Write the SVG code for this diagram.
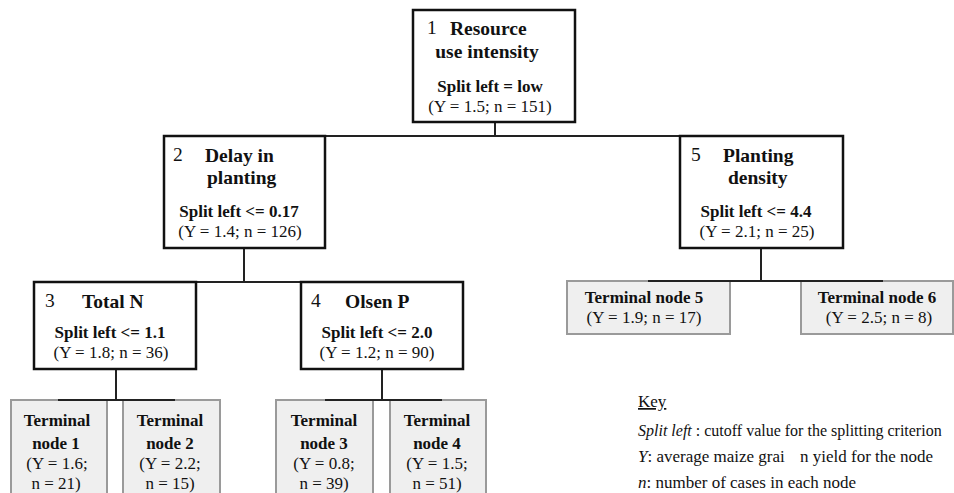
<svg xmlns="http://www.w3.org/2000/svg" width="954" height="493" viewBox="0 0 954 493">
<style>
text{font-family:"Liberation Serif","Times New Roman",serif;fill:#111;}
.t{font-size:19.5px;font-weight:bold;}
.num{font-size:19.5px;font-weight:normal;}
.s{font-size:17px;font-weight:bold;text-anchor:middle;}
.v{font-size:17px;text-anchor:middle;}
.tb{font-size:17px;font-weight:bold;text-anchor:middle;}
.k{font-size:17px;}
.k2{font-size:16px;}
.box{fill:#fff;stroke:#111;stroke-width:2.5;}
.term{fill:#efefef;stroke:#9a9a9a;stroke-width:2;}
.c{stroke:#222;stroke-width:2;fill:none;}
</style>
<g id="connectors">
<line class="c" x1="495" y1="122" x2="495" y2="136"/>
<line class="c" x1="244" y1="136" x2="761" y2="136"/>
<line class="c" x1="244" y1="248" x2="244" y2="282"/>
<line class="c" x1="115" y1="282" x2="382" y2="282"/>
<line class="c" x1="116" y1="369" x2="116" y2="400"/>
<line class="c" x1="382" y1="369" x2="382" y2="400"/>
<line class="c" x1="761" y1="248" x2="761" y2="281"/>
</g>
<g id="node1">
<rect class="box" x="413" y="10" width="162" height="112"/>
<text class="num" x="427" y="34">1</text>
<text class="t" x="450" y="35">Resource</text>
<text class="t" x="487" y="58" text-anchor="middle">use intensity</text>
<text class="s" x="490" y="92">Split left = low</text>
<text class="v" x="490" y="112">(Y = 1.5; n = 151)</text>
</g>
<g id="node2">
<rect class="box" x="164" y="136" width="161" height="112"/>
<text class="num" x="173" y="161">2</text>
<text class="t" x="205" y="162">Delay in</text>
<text class="t" x="207" y="184">planting</text>
<text class="s" x="239" y="217">Split left &lt;= 0.17</text>
<text class="v" x="240" y="237">(Y = 1.4; n = 126)</text>
</g>
<g id="node5">
<rect class="box" x="680" y="136" width="163" height="112"/>
<text class="num" x="691" y="161">5</text>
<text class="t" x="723" y="162">Planting</text>
<text class="t" x="728" y="184">density</text>
<text class="s" x="756" y="217">Split left &lt;= 4.4</text>
<text class="v" x="757" y="237">(Y = 2.1; n = 25)</text>
</g>
<g id="node3">
<rect class="box" x="34" y="282" width="162" height="87"/>
<text class="num" x="45" y="307">3</text>
<text class="t" x="82" y="308">Total N</text>
<text class="s" x="110" y="338">Split left &lt;= 1.1</text>
<text class="v" x="111" y="358">(Y = 1.8; n = 36)</text>
</g>
<g id="node4">
<rect class="box" x="301" y="282" width="162" height="87"/>
<text class="num" x="311" y="307">4</text>
<text class="t" x="345" y="308">Olsen P</text>
<text class="s" x="377" y="338">Split left &lt;= 2.0</text>
<text class="v" x="377" y="358">(Y = 1.2; n = 90)</text>
</g>
<g id="terminal1">
<rect class="term" x="11" y="400" width="96" height="100"/>
<text class="tb" x="57" y="426">Terminal</text>
<text class="tb" x="56" y="449">node 1</text>
<text class="v" x="57" y="469">(Y = 1.6;</text>
<text class="v" x="56" y="489">n = 21)</text>
</g>
<g id="terminal2">
<rect class="term" x="123" y="400" width="97" height="100"/>
<text class="tb" x="170" y="426">Terminal</text>
<text class="tb" x="170" y="449">node 2</text>
<text class="v" x="170" y="469">(Y = 2.2;</text>
<text class="v" x="170" y="489">n = 15)</text>
</g>
<g id="terminal3">
<rect class="term" x="276" y="400" width="97" height="100"/>
<text class="tb" x="324" y="426">Terminal</text>
<text class="tb" x="324" y="449">node 3</text>
<text class="v" x="324" y="469">(Y = 0.8;</text>
<text class="v" x="324" y="489">n = 39)</text>
</g>
<g id="terminal4">
<rect class="term" x="390" y="400" width="96" height="100"/>
<text class="tb" x="437" y="426">Terminal</text>
<text class="tb" x="437" y="449">node 4</text>
<text class="v" x="437" y="469">(Y = 1.5;</text>
<text class="v" x="437" y="489">n = 51)</text>
</g>
<g id="terminal5">
<rect class="term" x="567" y="281" width="163" height="53"/>
<text class="tb" x="644" y="303">Terminal node 5</text>
<text class="v" x="644" y="323">(Y = 1.9; n = 17)</text>
</g>
<g id="terminal6">
<rect class="term" x="801" y="281" width="152" height="53"/>
<text class="tb" x="877" y="303">Terminal node 6</text>
<text class="v" x="879" y="323">(Y = 2.5; n = 8)</text>
</g>
<g id="connectors-top">
<line class="c" x1="58" y1="400" x2="175" y2="400"/>
<line class="c" x1="325" y1="400" x2="442" y2="400"/>
<line class="c" x1="648" y1="281" x2="883" y2="281"/>
</g>
<g id="key">
<text class="k" x="638" y="407" text-decoration="underline">Key</text>
<text class="k2" x="638" y="436"><tspan font-style="italic">Split left</tspan> : cutoff value for the splitting criterion</text>
<text class="k" x="638" y="462"><tspan font-style="italic">Y</tspan>: average maize grai</text>
<text class="k" x="800" y="462">n yield for the node</text>
<text class="k" x="638" y="488"><tspan font-style="italic">n</tspan>: number of cases in each node</text>
</g>
</svg>
